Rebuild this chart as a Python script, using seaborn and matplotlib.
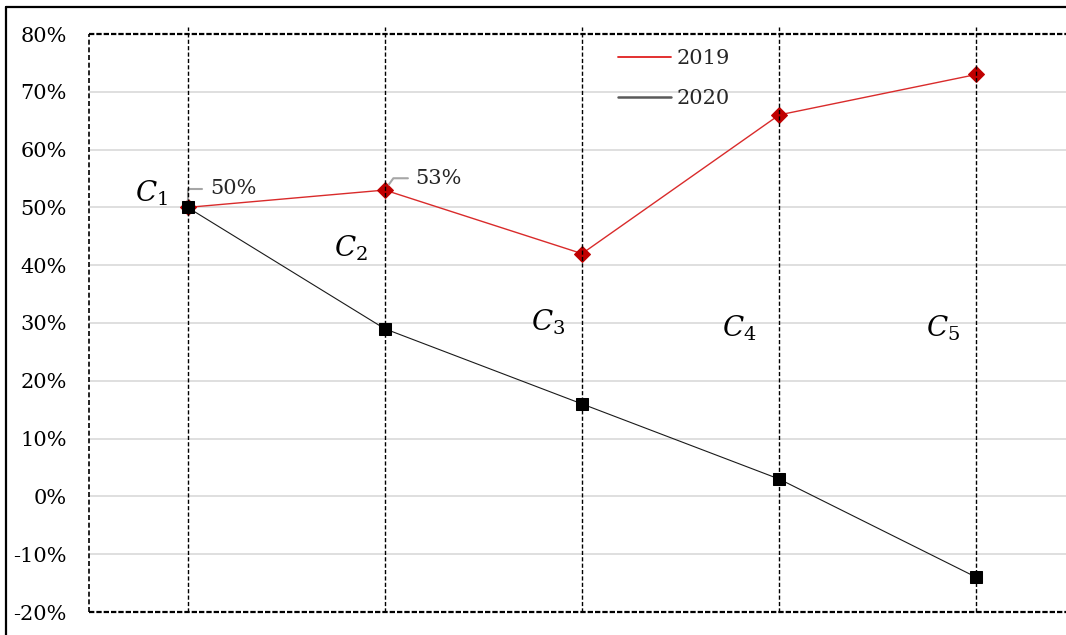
import matplotlib
matplotlib.use("Agg")
import matplotlib.pyplot as plt
from matplotlib.lines import Line2D
import pandas as pd
import seaborn as sns

# ---- data -------------------------------------------------------------
categories = ["C1", "C2", "C3", "C4", "C5"]
cat_labels = [r"$C_1$", r"$C_2$", r"$C_3$", r"$C_4$", r"$C_5$"]
values_2019 = [50, 53, 42, 66, 73]
values_2020 = [50, 29, 16, 3, -14]
y_ticks = [-20, -10, 0, 10, 20, 30, 40, 50, 60, 70, 80]

# ---- style ------------------------------------------------------------
sns.set_theme(style="white")
plt.rcParams["font.family"] = ["DejaVu Serif"]
plt.rcParams["mathtext.fontset"] = "dejavuserif"

W, H = 1066, 635
fig = plt.figure(figsize=(W / 100, H / 100), dpi=100)
fig.patch.set_facecolor("white")

# plot area (its right half-category runs past the figure edge)
ax = fig.add_axes([89 / W, (H - 612) / H, (1075 - 89) / W, (612 - 34) / H])
ax.set_facecolor("white")

pos = list(range(len(categories)))
df19 = pd.DataFrame({"pos": pos, "value": values_2019})
df20 = pd.DataFrame({"pos": pos, "value": values_2020})

sns.lineplot(data=df19, x="pos", y="value", ax=ax, color="#d92b2b",
             linewidth=1.0, marker="D", markersize=8,
             markeredgecolor="#c00000", markerfacecolor="#c00000", zorder=3)
sns.lineplot(data=df20, x="pos", y="value", ax=ax, color="#1a1a1a",
             linewidth=0.8, marker="s", markersize=8,
             markeredgecolor="black", markerfacecolor="black", zorder=3)

ax.set_xlim(-0.5, 4.5)
ax.set_ylim(-20, 80)
ax.set_xticks([])
ax.set_yticks(y_ticks)
ax.set_yticklabels([f"{v}%" for v in y_ticks])
ax.tick_params(axis="y", length=0, pad=16, labelsize=15, colors="black")
ax.set_xlabel("")
ax.set_ylabel("")

# horizontal gridlines
for v in y_ticks[1:-1]:
    ax.axhline(v, color="#d9d9d9", linewidth=1.2, zorder=1)

# dashed category guides, slightly overshooting the top border
for p in pos:
    ax.axvline(p, ymin=0, ymax=1.012, color="black", linewidth=1.0,
               linestyle=(0, (3, 1.6)), dash_capstyle="butt",
               zorder=5, clip_on=False)

# dashed plot-area border
for side in ["top", "bottom"]:
    sp = ax.spines[side]
    sp.set_linestyle((0, (2.4, 0.9)))
    sp.set_linewidth(1.6)
    sp.set_color("black")
    sp.set_capstyle("butt")
ax.spines["left"].set_linestyle((0, (3, 1.6)))
ax.spines["left"].set_linewidth(1.2)
ax.spines["left"].set_color("black")
ax.spines["left"].set_capstyle("butt")
ax.spines["right"].set_visible(False)

# category names
label_spots = [(-0.185, 52.5), (0.827, 43.0), (1.83, 30.2), (2.80, 29.1), (3.83, 29.1)]
for text, (lx, ly) in zip(cat_labels, label_spots):
    ax.text(lx, ly, text, fontsize=20, ha="center", va="center", color="black")

# value labels with leader lines
leader = dict(arrowstyle="-", color="#a6a6a6", linewidth=1.5,
              shrinkA=3, shrinkB=5, relpos=(0, 0.5))
ax.annotate(f"{values_2019[0]}%", xy=(0, values_2019[0]),
            xytext=(16, 13.5), textcoords="offset points",
            fontsize=15, ha="left", va="center",
            arrowprops=dict(leader, connectionstyle="angle,angleA=0,angleB=90,rad=0"))
ax.annotate(f"{values_2019[1]}%", xy=(1, values_2019[1]),
            xytext=(22, 8.5), textcoords="offset points",
            fontsize=15, ha="left", va="center",
            arrowprops=dict(leader, connectionstyle="angle,angleA=0,angleB=54,rad=0"))

# legend (line swatches only)
handles = [Line2D([], [], color="#e02020", linewidth=1.3),
           Line2D([], [], color="#595959", linewidth=1.8)]
fig.legend(handles, ["2019", "2020"], loc="upper left",
           bbox_to_anchor=(608 / W, (H - 39) / H), bbox_transform=fig.transFigure,
           frameon=False, fontsize=15, handlelength=2.5, handletextpad=0.3,
           labelspacing=1.0, borderpad=0.0)

# outer chart frame (left and top edges)
fig.add_artist(Line2D([6 / W, 6 / W], [0, (H - 7) / H], transform=fig.transFigure,
                      color="black", linewidth=1.6))
fig.add_artist(Line2D([6 / W, 1], [(H - 7) / H, (H - 7) / H], transform=fig.transFigure,
                      color="black", linewidth=1.6))

fig.savefig("out.png", dpi=100)
